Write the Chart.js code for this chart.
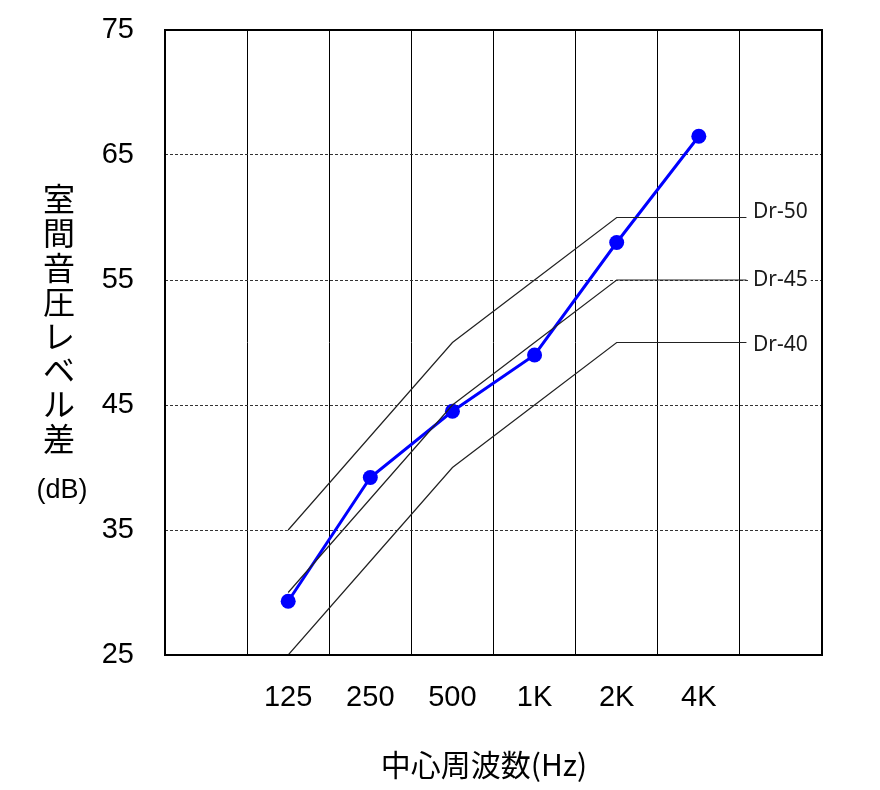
<!DOCTYPE html>
<html>
<head>
<meta charset="utf-8">
<script src="https://cdn.jsdelivr.net/npm/chart.js@4.4.0/dist/chart.umd.min.js"></script>
<style>
  html, body { margin: 0; background: #fff; }
  #wrap { width: 880px; height: 790px; }
</style>
</head>
<body>
<div id="wrap"><canvas id="chart"></canvas></div>
<script>
// frequency bands (centre frequencies)
const freqLabels = ['125', '250', '500', '1K', '2K', '4K'];
// measured sound level difference (dB)
const measured = [29.3, 39.2, 44.5, 49.0, 58.0, 66.5];
// Dr reference curves
const dr50 = [35, 42.5, 50, 55, 60, 60];
const dr45 = [30, 37.5, 45, 50, 55, 55];
const dr40 = [25, 32.5, 40, 45, 50, 50];
const drNames = ['Dr-50', 'Dr-45', 'Dr-40'];
// y axis ticks
const yTicks = [25, 35, 45, 55, 65, 75];

// band i sits in column i+1 of an 8-column grid -> centre at i+1.5
const bandX = i => i + 1.5;
const toPoints = arr => arr.map((v, i) => ({ x: bandX(i), y: v }));
// reference curves run on flat past 4K up to the next grid line
const drPoints = arr => toPoints(arr).concat([{ x: 7.08, y: arr[arr.length - 1] }]);

const refStyle = {
  borderColor: '#222',
  borderWidth: 1.2,
  pointRadius: 0,
  fill: false,
  tension: 0
};

// frame, axis titles and curve names
const decorPlugin = {
  id: 'decor',
  afterDatasetsDraw(chart) {
    const { ctx, chartArea: a, scales } = chart;
    ctx.save();
    ctx.strokeStyle = '#000';
    ctx.lineWidth = 2;
    ctx.strokeRect(a.left, a.top, a.right - a.left, a.bottom - a.top);

    // curve labels (white box behind, like a text box)
    ctx.font = '21px "Noto Sans"';
    ctx.textAlign = 'left';
    ctx.textBaseline = 'middle';
    [dr50, dr45, dr40].forEach((arr, k) => {
      let y = scales.y.getPixelForValue(arr[arr.length - 1]);
      if (k === 0) y -= 5;
      if (k === 2) y += 3;
      const w = ctx.measureText(drNames[k]).width;
      ctx.fillStyle = '#fff';
      ctx.fillRect(750, y - 12, w + 6, 24);
      ctx.fillStyle = '#1a1a1a';
      ctx.fillText(drNames[k], 753, y);
    });

    // y title, stacked vertically
    ctx.fillStyle = '#000';
    ctx.textAlign = 'center';
    ctx.font = '32px "Noto Sans CJK JP"';
    const title = '室間音圧レベル差';
    for (let i = 0; i < title.length; i++) {
      ctx.fillText(title[i], 59, 199 + i * 34.2);
    }
    ctx.font = '27px "Liberation Sans"';
    ctx.fillText('(dB)', 62, 491);

    // x title
    ctx.font = '30px "Noto Sans CJK JP"';
    ctx.fillText('中心周波数(Hz)', 484, 765);
    ctx.restore();
  }
};

new Chart(document.getElementById('chart'), {
  type: 'line',
  data: {
    datasets: [
      { ...refStyle, data: drPoints(dr50) },
      { ...refStyle, data: drPoints(dr45) },
      { ...refStyle, data: drPoints(dr40) },
      {
        data: toPoints(measured),
        borderColor: '#0000ff',
        backgroundColor: '#0000ff',
        borderWidth: 3,
        pointRadius: 7.5,
        pointBorderWidth: 0,
        fill: false,
        tension: 0
      }
    ]
  },
  options: {
    responsive: true,
    maintainAspectRatio: false,
    animation: false,
    events: [],
    layout: { padding: { top: 30, right: 58, bottom: 0, left: 0 } },
    plugins: {
      legend: { display: false },
      tooltip: { enabled: false }
    },
    scales: {
      x: {
        type: 'linear',
        min: 0,
        max: 8,
        afterBuildTicks(scale) {
          const t = [];
          for (let i = 0; i <= 16; i++) t.push({ value: i / 2 });
          scale.ticks = t;
        },
        afterFit(scale) { scale.height = 135; },
        grid: {
          drawTicks: false,
          lineWidth: 1,
          color: ctx => (Number.isInteger(ctx.tick.value) ? '#000' : 'rgba(0,0,0,0)')
        },
        border: { display: false },
        ticks: {
          autoSkip: false,
          maxRotation: 0,
          padding: 26,
          color: '#000',
          font: { family: 'Liberation Sans', size: 29 },
          callback(value) {
            const i = value - 1.5;
            return Number.isInteger(i) && freqLabels[i] ? freqLabels[i] : '';
          }
        }
      },
      y: {
        min: 25,
        max: 75,
        afterBuildTicks(scale) {
          scale.ticks = yTicks.map(v => ({ value: v }));
        },
        afterFit(scale) {
          scale.width = 165;
          scale.paddingTop = 0;
          scale.paddingBottom = 0;
        },
        grid: {
          drawTicks: false,
          lineWidth: 1,
          color: ctx => (ctx.tick.value === 25 || ctx.tick.value === 75 ? 'rgba(0,0,0,0)' : '#333')
        },
        border: { display: false, dash: [3, 2] },
        ticks: {
          padding: 31,
          color: '#000',
          font: { family: 'Liberation Sans', size: 29 }
        }
      }
    }
  },
  plugins: [decorPlugin]
});
</script>
</body>
</html>
